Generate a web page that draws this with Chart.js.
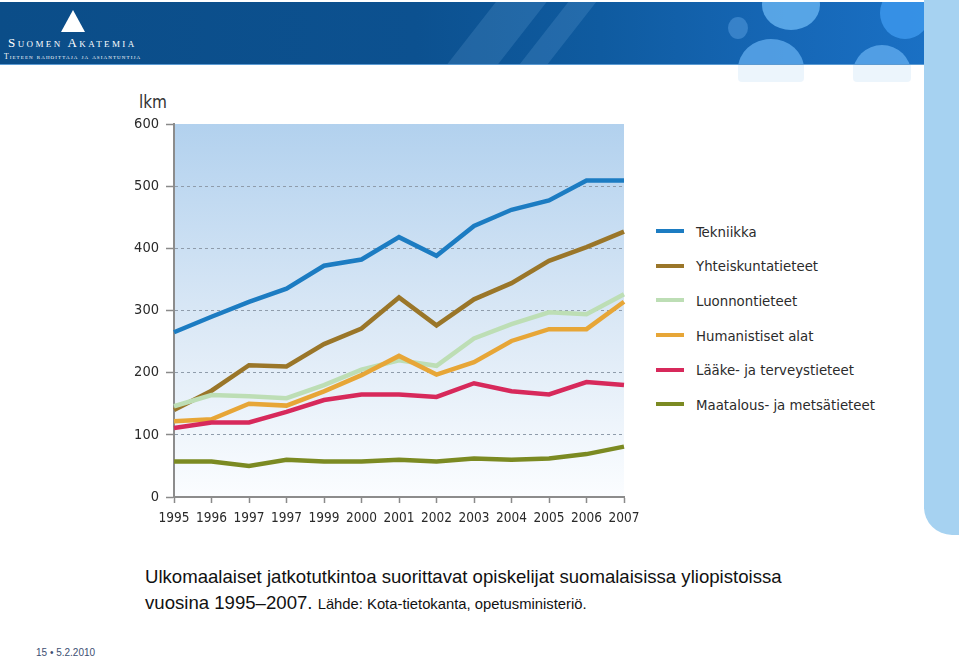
<!DOCTYPE html>
<html lang="fi">
<head>
<meta charset="utf-8">
<title>Ulkomaalaiset jatkotutkintoa suorittavat opiskelijat</title>
<script src="https://cdn.jsdelivr.net/npm/chart.js@4.4.1/dist/chart.umd.min.js"></script>
<style>
    html, body { margin: 0; padding: 0; background: #fff; }
    body { width: 959px; height: 663px; position: relative; overflow: hidden; font-family: "Liberation Sans", Arial, sans-serif; }
    #header {
        position: absolute; left: 0; top: 2px; width: 924px; height: 62px; overflow: hidden;
        background: linear-gradient(90deg, #0b4d88 0%, #0c5190 45%, #0f5ba0 65%, #1667b6 85%, #1a70c4 100%);
        border-bottom: 1px solid #5b9ad2;
    }
    .band { position: absolute; background: rgba(150, 200, 240, 0.16); transform: rotate(38deg); }
    .dot { position: absolute; border-radius: 50%; }
    #sidebar {
        position: absolute; left: 924px; top: 0; width: 35px; height: 535px;
        background: #a6d2f1; border-bottom-left-radius: 28px;
    }
    #logoTri {
        position: absolute; left: 61px; top: 8px; width: 0; height: 0;
        border-left: 12px solid transparent; border-right: 12px solid transparent; border-bottom: 22px solid #fff;
    }
    #logoName {
        position: absolute; left: 8px; top: 33px; color: #fff; font-family: "Liberation Serif", "DejaVu Serif", serif;
        font-size: 13px; letter-spacing: 2.4px; font-variant: small-caps; white-space: nowrap;
    }
    #logoSub {
        position: absolute; left: 4px; top: 50px; color: #fff; font-family: "Liberation Serif", "DejaVu Serif", serif;
        font-size: 7.5px; font-variant: small-caps; white-space: nowrap; letter-spacing: 1.1px;
    }
    #chartBox { position: absolute; left: 100px; top: 80px; width: 548px; height: 460px; }
    #yTitle { position: absolute; left: 139px; top: 92px; font-family: "DejaVu Sans Condensed", sans-serif; font-size: 17px; color: #333; }
    #legend { position: absolute; left: 656px; top: 214px; font-family: "DejaVu Sans Condensed", sans-serif; font-size: 14.8px; color: #2b2b2b; }
    .item { height: 34.6px; display: flex; align-items: center; white-space: nowrap; }
    .swatch { width: 28px; height: 4px; margin-right: 12px; }
    #caption { position: absolute; left: 145px; top: 564px; font-size: 18.6px; line-height: 26px; color: #111; white-space: nowrap; }
    #caption small { font-size: 14.8px; }
    #footer { position: absolute; left: 36px; top: 647px; font-size: 10px; color: #3d4f72; }
</style>
</head>
<body>
<div id="header">
    <div class="band" style="left:470px; top:-60px; width:40px; height:200px;"></div>
    <div class="band" style="left:540px; top:-60px; width:22px; height:200px;"></div>
    <div class="dot" style="left:728px; top:15px; width:20px; height:22px; background:rgba(90,160,225,0.5);"></div>
    <div class="dot" style="left:762px; top:-22px; width:58px; height:50px; background:rgba(110,185,245,0.75);"></div>
    <div class="dot" style="left:738px; top:37px; width:66px; height:60px; background:rgba(100,175,240,0.75);"></div>
    <div class="dot" style="left:880px; top:-15px; width:50px; height:52px; background:rgba(60,150,235,0.85);"></div>
    <div class="dot" style="left:853px; top:43px; width:58px; height:56px; background:rgba(100,175,240,0.75);"></div>
    <div id="logoTri"></div>
    <div id="logoName">Suomen Akatemia</div>
    <div id="logoSub">Tieteen rahoittaja ja asiantuntija</div>
</div>
<div class="dot" style="left:738px; top:65px; width:66px; height:17px; border-radius:0 0 4px 4px; background:rgba(200,225,245,0.35);"></div>
<div class="dot" style="left:853px; top:65px; width:58px; height:17px; border-radius:0 0 4px 4px; background:rgba(200,225,245,0.35);"></div>
<div id="sidebar"></div>

<div id="yTitle">lkm</div>
<div id="chartBox"><canvas id="lineChart" width="548" height="460"></canvas></div>
<div id="legend"></div>

<div id="caption">Ulkomaalaiset jatkotutkintoa suorittavat opiskelijat suomalaisissa yliopistoissa<br>vuosina 1995–2007. <small>Lähde: Kota-tietokanta, opetusministeriö.</small></div>
<div id="footer">15 • 5.2.2010</div>

<script>
// vuodet kuten alkuperäisessä kuvassa (1997 kahdesti)
const years = ['1995', '1996', '1997', '1997', '1999', '2000', '2001', '2002', '2003', '2004', '2005', '2006', '2007'];

const tekniikka    = [265, 290, 314, 335, 372, 382, 418, 388, 436, 462, 477, 509, 509];
const yhteiskunta  = [140, 171, 212, 210, 246, 271, 321, 276, 318, 344, 380, 402, 427];
const luonnon      = [146, 164, 162, 159, 180, 205, 220, 211, 255, 278, 297, 294, 326];
const humanistiset = [122, 125, 150, 147, 170, 196, 227, 197, 217, 251, 270, 270, 314];
const laake        = [111, 120, 120, 137, 156, 165, 165, 161, 183, 170, 165, 185, 180];
const maatalous    = [57, 57, 50, 60, 57, 57, 60, 57, 62, 60, 62, 69, 81];

const seriesNames = ['Tekniikka', 'Yhteiskuntatieteet', 'Luonnontieteet', 'Humanistiset alat', 'Lääke- ja terveystieteet', 'Maatalous- ja metsätieteet'];
const seriesData = [tekniikka, yhteiskunta, luonnon, humanistiset, laake, maatalous];
const seriesColors = ['#1c7cc2', '#9a7629', '#bddeb5', '#e7a637', '#d7295b', '#7b8a22'];

const yTicks = [0, 100, 200, 300, 400, 500, 600];

const narrowFont = '"DejaVu Sans Condensed", sans-serif';

// taustan liukuväri kuvaajan alueelle
const plotBackground = {
    id: 'plotBackground',
    beforeDraw(chart) {
        const { ctx, chartArea: a } = chart;
        const g = ctx.createLinearGradient(0, a.top, 0, a.bottom);
        g.addColorStop(0, '#b2d1ee');
        g.addColorStop(0.55, '#dce9f6');
        g.addColorStop(1, '#fbfdff');
        ctx.save();
        ctx.fillStyle = g;
        ctx.fillRect(a.left, a.top, a.right - a.left, a.bottom - a.top);
        ctx.restore();
    }
};

function buildLegend() {
    const box = document.getElementById('legend');
    seriesNames.forEach((name, i) => {
        box.innerHTML += `<div class="item"><span class="swatch" style="background:${seriesColors[i]}"></span>${name}</div>`;
    });
}

function drawChart() {
    const datasets = seriesNames.map((name, i) => ({
        label: name,
        data: seriesData[i],
        borderColor: seriesColors[i],
        backgroundColor: seriesColors[i],
        borderWidth: 4.5,
        pointRadius: 0,
        tension: 0,
        order: seriesNames.length - i
    }));

    new Chart(document.getElementById('lineChart'), {
        type: 'line',
        data: { labels: years, datasets: datasets },
        plugins: [plotBackground],
        options: {
            responsive: false,
            animation: false,
            layout: { padding: { top: 44, right: 24, left: 0, bottom: 0 } },
            plugins: { legend: { display: false }, tooltip: { enabled: false } },
            scales: {
                x: {
                    grid: { drawOnChartArea: false, drawTicks: true, tickLength: 6, tickColor: '#8a8a8a', tickWidth: 1.5 },
                    border: { color: '#8c8c8c', width: 2 },
                    ticks: { font: { family: narrowFont, size: 13.5 }, color: '#2a2a2a', maxRotation: 0, autoSkip: false, padding: 7 },
                    afterFit: s => { s.height = 43; }
                },
                y: {
                    min: 0,
                    max: 600,
                    afterBuildTicks: s => { s.ticks = yTicks.map(v => ({ value: v })); },
                    grid: {
                        color: c => (c.tick && (c.tick.value === 0 || c.tick.value === 600)) ? 'rgba(0,0,0,0)' : '#8f9cab',
                        lineWidth: 1,
                        tickLength: 8,
                        tickColor: '#8a8a8a',
                        tickWidth: 1.5
                    },
                    border: { color: '#8c8c8c', width: 2, dash: [3, 3] },
                    ticks: { font: { family: narrowFont, size: 14.5 }, color: '#2a2a2a', padding: 7 },
                    afterFit: s => { s.width = 74; }
                }
            }
        }
    });
}

buildLegend();
drawChart();
</script>
</body>
</html>
